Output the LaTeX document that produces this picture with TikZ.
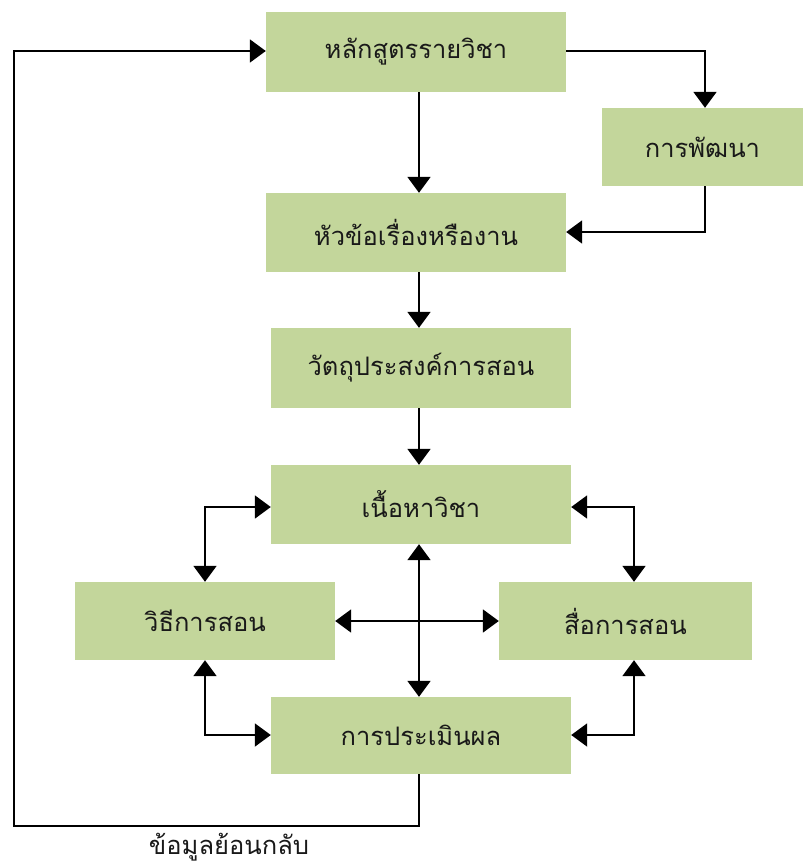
\documentclass[tikz,border=0pt]{standalone}
\usepackage{fontspec}
\newfontfamily\thaifont[Script=Thai]{Loma}
\usetikzlibrary{arrows.meta}
\definecolor{boxgreen}{RGB}{195,214,155}
\tikzset{
  box/.style={fill=boxgreen, draw=none, inner sep=0pt, font=\thaifont\fontsize{25.5}{30}\selectfont, text=black!90},
  conn/.style={line width=2pt, black},
  arr/.style={conn, -{Triangle[length=16pt,width=23pt]}},
  barr/.style={conn, {Triangle[length=16pt,width=23pt]}-{Triangle[length=16pt,width=23pt]}},
}
\begin{document}
\begin{tikzpicture}[x=1pt,y=-1pt]
\useasboundingbox (0,0) rectangle (803,865);
\node[box, minimum width=300pt, minimum height=80pt] (a) at (416,52) {หลักสูตรรายวิชา};
\node[box, minimum width=201pt, minimum height=78pt] (dev) at (702.5,147) {การพัฒนา};
\node[box, minimum width=300pt, minimum height=79pt] (b) at (416,232.5) {หัวข้อเรื่องหรืองาน};
\node[box, minimum width=300pt, minimum height=80pt] (c) at (421,368) {วัตถุประสงค์การสอน};
\node[box, minimum width=300pt, minimum height=79pt] (d) at (421,504.5) {เนื้อหาวิชา};
\node[box, minimum width=260pt, minimum height=78pt] (e) at (205,621) {วิธีการสอน};
\node[box, minimum width=253pt, minimum height=78pt] (f) at (625.5,621) {สื่อการสอน};
\node[box, minimum width=300pt, minimum height=77pt] (g) at (421,735.5) {การประเมินผล};
\node[font=\thaifont\fontsize{25.5}{30}\selectfont, text=black!90] (fb) at (229,847) {ข้อมูลย้อนกลับ};
\coordinate (vx) at (419,0);
\coordinate (dx) at (705,0);
\coordinate (rx) at (634,0);
\coordinate (y51) at (0,51);
\coordinate (y232) at (0,232);
\coordinate (y507) at (0,507);
\coordinate (y735) at (0,735);
\coordinate (fbl) at (14,826);
\coordinate (fbr) at (419,826);
% main chain
\draw[arr] (a.south -| vx) -- (b.north -| vx);
\draw[arr] (b.south -| vx) -- (c.north -| vx);
\draw[arr] (c.south -| vx) -- (d.north -| vx);
% development loop
\draw[arr] (a.east |- y51) -| (dev.north -| dx);
\draw[arr] (dev.south -| dx) |- (b.east |- y232);
% bidirectional
\draw[barr] (d.west |- y507) -| (e.north);
\draw[barr] (d.east |- y507) -| (f.north -| rx);
\draw[barr] (e.south) |- (g.west |- y735);
\draw[barr] (f.south -| rx) |- (g.east |- y735);
\draw[barr] (d.south -| vx) -- (g.north -| vx);
\draw[barr] (e.east) -- (f.west);
% feedback
\draw[arr] (g.south -| vx) -- (fbr) -- (fbl) |- (a.west |- y51);
\end{tikzpicture}
\end{document}
